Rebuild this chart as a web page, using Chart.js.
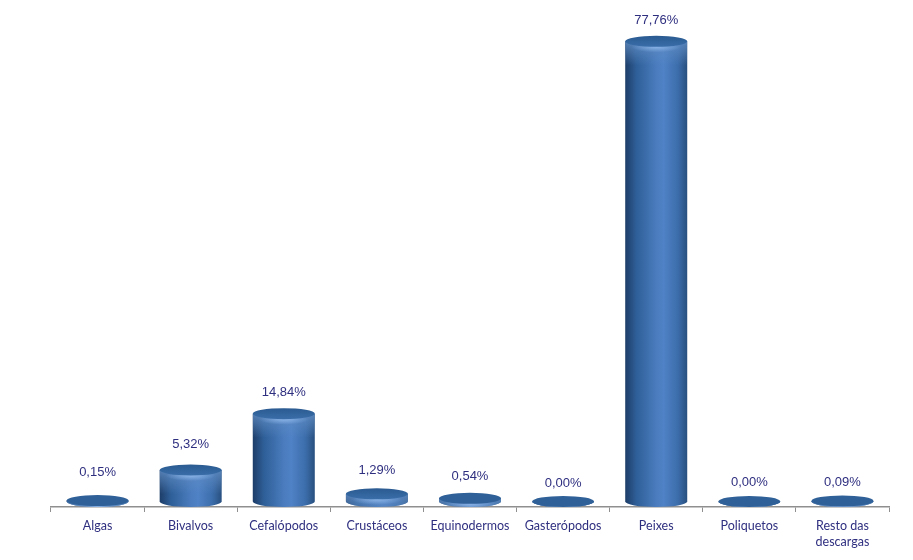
<!DOCTYPE html>
<html>
<head>
<meta charset="utf-8">
<style>
  html, body { margin: 0; padding: 0; background: #fff; }
  #wrap { width: 913px; height: 560px; }
</style>
<script src="https://cdn.jsdelivr.net/npm/chart.js@4"></script>
</head>
<body>
<div id="wrap"><canvas id="chart"></canvas></div>
<script>
const categories = ['Algas', 'Bivalvos', 'Cefalópodos', 'Crustáceos', 'Equinodermos', 'Gasterópodos', 'Peixes', 'Poliquetos', ['Resto das', 'descargas']];
const shares = [0.15, 5.32, 14.84, 1.29, 0.54, 0.00, 77.76, 0.00, 0.09];
const shareLabels = ['0,15%', '5,32%', '14,84%', '1,29%', '0,54%', '0,00%', '77,76%', '0,00%', '0,09%'];
// gap between the top of the cylinder and its label, varies in the original
const labelGaps = [23, 20, 16, 18, 16, 13, 15, 14, 13];

const axisColor = '#8f8f8f';
const textColor = '#2f2f80';

// draws the bars as cylinders, using the geometry chart.js worked out
const cylinders = {
    id: 'cylinders',
    beforeDatasetDraw(chart, args) {
        const ctx = chart.ctx;
        const bars = args.meta.data;
        const ry = 5.5;
        const lift = 5.5; // ellipse base sits just above the axis line

        bars.forEach((bar, i) => {
            const rx = bar.width / 2;
            const topY = bar.y - lift;
            const baseY = bar.base - lift;
            const left = bar.x - rx;
            const right = bar.x + rx;

            const side = ctx.createLinearGradient(left, 0, right, 0);
            side.addColorStop(0, '#1d3d68');
            side.addColorStop(0.18, '#2f5f98');
            side.addColorStop(0.5, '#4a7cbe');
            side.addColorStop(0.62, '#4f82c6');
            side.addColorStop(0.85, '#3c6dab');
            side.addColorStop(1, '#28507f');

            ctx.save();
            ctx.beginPath();
            ctx.moveTo(left, topY);
            ctx.lineTo(left, baseY);
            ctx.ellipse(bar.x, baseY, rx, ry, 0, Math.PI, 0, true);
            ctx.lineTo(right, topY);
            ctx.closePath();
            ctx.fillStyle = side;
            ctx.fill();
            ctx.clip();

            // lighter band under the rim, fades out going down
            const fade = ctx.createLinearGradient(0, topY, 0, topY + 24);
            fade.addColorStop(0, 'rgba(95,140,195,0.85)');
            fade.addColorStop(1, 'rgba(95,140,195,0)');
            ctx.fillStyle = fade;
            ctx.fillRect(left, topY, bar.width, 24);

            // highlight on the front of the rim
            ctx.save();
            ctx.translate(bar.x, topY + ry);
            ctx.scale(1, 0.22);
            const glow = ctx.createRadialGradient(0, 0, 0, 0, 0, rx * 0.8);
            glow.addColorStop(0, 'rgba(150,190,240,0.8)');
            glow.addColorStop(1, 'rgba(150,190,240,0)');
            ctx.fillStyle = glow;
            ctx.fillRect(-rx, -rx, rx * 2, rx * 2);
            ctx.restore();
            ctx.restore();

            // top face
            const face = ctx.createLinearGradient(0, topY - ry, 0, topY + ry);
            face.addColorStop(0, '#2a5a90');
            face.addColorStop(1, '#3a6ea9');
            ctx.fillStyle = shares[i] > 1 ? face : '#2f6098';
            ctx.beginPath();
            ctx.ellipse(bar.x, topY, rx, ry, 0, 0, Math.PI * 2);
            ctx.fill();

            ctx.fillStyle = textColor;
            ctx.font = '13px "Liberation Sans"';
            ctx.textAlign = 'center';
            ctx.textBaseline = 'middle';
            ctx.fillText(shareLabels[i], bar.x, topY - ry - labelGaps[i]);
            ctx.restore();
        });
        return false;
    }
};

new Chart(document.getElementById('chart'), {
    type: 'bar',
    data: {
        labels: categories,
        datasets: [{
            data: shares,
            backgroundColor: '#3c6dab',
            barPercentage: 1,
            categoryPercentage: 0.666
        }]
    },
    options: {
        responsive: true,
        maintainAspectRatio: false,
        animation: false,
        layout: { padding: { left: 51, right: 24, top: 4, bottom: 0 } },
        plugins: {
            legend: { display: false },
            tooltip: { enabled: false }
        },
        scales: {
            x: {
                afterFit: (scale) => { scale.height = 53; },
                border: { color: axisColor, width: 1.5 },
                grid: { drawOnChartArea: false, color: axisColor, tickLength: 5, offset: true },
                ticks: {
                    color: textColor,
                    font: { family: 'Lato', size: 12.5, lineHeight: 1.3 },
                    maxRotation: 0,
                    padding: 6
                }
            },
            y: {
                display: false,
                min: 0,
                max: 85
            }
        }
    },
    plugins: [cylinders]
});
</script>
</body>
</html>
